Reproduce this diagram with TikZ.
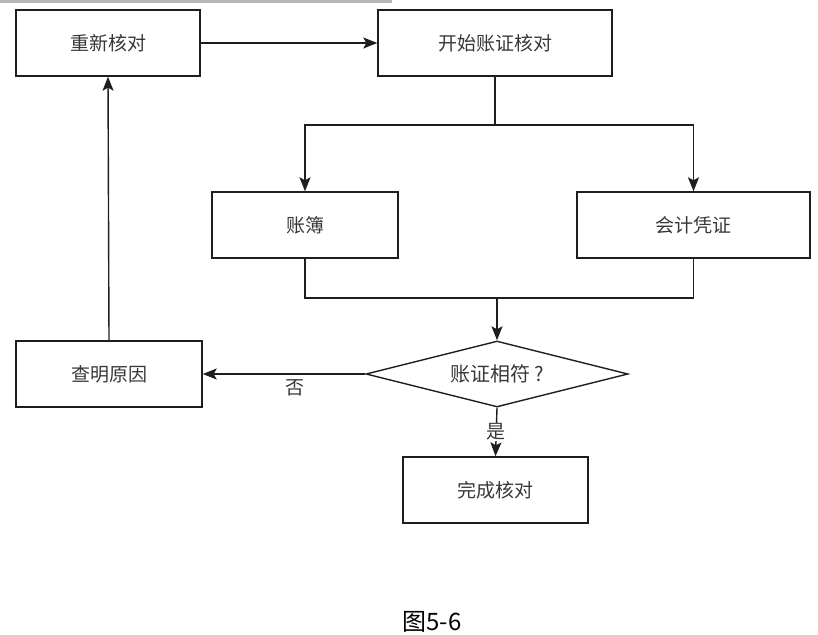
\documentclass[tikz,border=0pt]{standalone}
\usepackage{fontspec}
\usepackage{tikz}
\usetikzlibrary{arrows.meta,positioning,calc,shapes.geometric}
\newfontfamily\cjk{Noto Sans CJK SC}
\definecolor{lnblack}{RGB}{30,30,30}
\definecolor{txgray}{RGB}{55,55,55}
\tikzset{
  flowbox/.style={draw=lnblack, line width=1.4pt, minimum width=#1, minimum height=66pt, inner sep=0pt, text=txgray},
  flowbox/.default=186pt,
  decide/.style={diamond, draw=lnblack, line width=1.4pt, aspect=3.97, minimum width=262pt, minimum height=66pt, inner sep=0pt, text=txgray},
  arr/.style={-{Stealth[length=14pt,width=11pt,inset=3pt]}, lnblack, line width=1.4pt},
  ln/.style={lnblack, line width=1.4pt},
  lbl/.style={text=txgray, inner sep=1pt},
}

\begin{document}
\begin{tikzpicture}[x=1pt,y=-1pt,font=\cjk\fontsize{19}{22}\selectfont]
  \useasboundingbox (0,0) rectangle (818,634);
  \fill[black!28] (0,0) rectangle (392,3);
  % boxes
  \node[flowbox=184pt] (recheck) at (108,43) {重新核对};
  \node[flowbox=234pt] (start) at (495,43) {开始账证核对};
  \node[flowbox] (ledger) at (305,225) {账簿};
  \node[flowbox=233pt] (voucher) at (693.5,225) {会计凭证};
  \node[decide, font=\cjk\fontsize{20}{23}\selectfont] (match) at (497,374) {账证相符 ?};
  \node[flowbox] (cause) at (109,374) {查明原因};
  \node[flowbox=185pt] (done) at (495.5,490) {完成核对};
  \coordinate (split) at (495,125);
  \coordinate (join) at (497,298);
  % connectors
  \draw[arr] (recheck) -- (start);
  \draw[ln] (start.south) -- (split);
  \draw[arr] (split) -| (ledger.north);
  \draw[arr] (split) -| (voucher.north);
  \draw[ln] (ledger.south) |- (join);
  \draw[ln] (voucher.south) |- (join);
  \draw[arr] (join) -- (match.north);
  \draw[arr] (match.west) -- (cause.east) node[lbl, pos=0.43, below=4pt] {否};
  \draw[arr] (match.south) -- (done.north) node[lbl, fill=white, pos=0.5] {是};
  \draw[arr] (cause.north) -- (recheck.south);
  \node[text=black, font=\cjk\fontsize{24}{28}\selectfont] (caption) at (432,622) {图5-6};
\end{tikzpicture}
\end{document}
